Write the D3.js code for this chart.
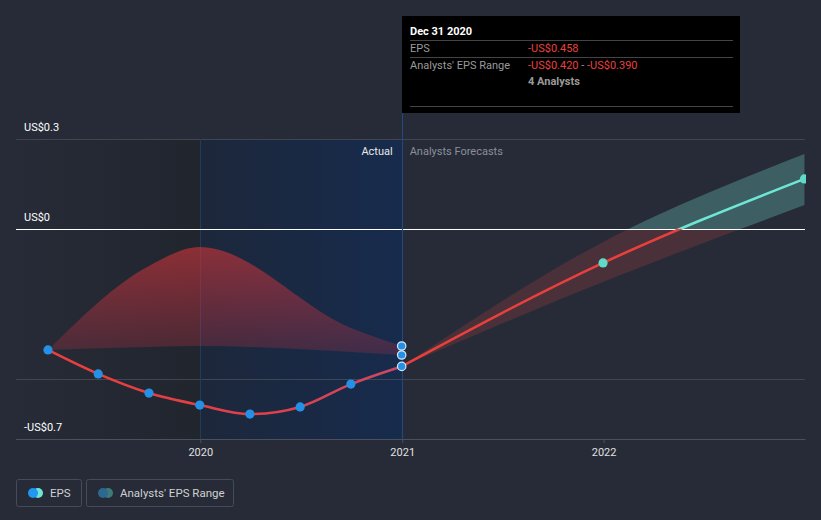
<!DOCTYPE html>
<html><head><meta charset="utf-8">
<script src="https://cdn.jsdelivr.net/npm/d3@7"></script>
<style>
html,body{margin:0;padding:0;background:#262b37;}
svg{display:block;font-family:Roboto,"Open Sans",sans-serif;}
</style></head>
<body><svg id="c" width="821" height="520"></svg>
<script>
// ---- data ----
const actualDates = ["2019-03-31","2019-06-30","2019-09-30","2019-12-31","2020-03-31","2020-06-30","2020-09-30","2020-12-31"];
const actualEPS = [-0.403,-0.483,-0.547,-0.587,-0.617,-0.593,-0.517,-0.458];
const pastRangeDates = ["2019-03-31","2019-09-30","2019-12-31","2020-09-30","2020-12-31"];
const pastRangeHigh = [-0.403,-0.123,-0.06,-0.33,-0.39];
const pastRangeLow = [-0.403,-0.393,-0.39,-0.41,-0.42];
const forecastDates = ["2020-12-31","2021-12-31","2022-12-31"];
const forecastEPS = [-0.458,-0.113,0.167];
const forecastLow = [-0.458,-0.177,0.08];
const forecastHigh = [-0.458,-0.043,0.25];
const yTickValues = [0.3,0,-0.5,-0.7];
const yTickLabels = {"0.3":"US$0.3","0":"US$0","-0.7":"-US$0.7"};
const xTickYears = ["2020","2021","2022"];

const parse = d3.timeParse("%Y-%m-%d");
const svg = d3.select("#c");
const L = 16, R = 805, T = 139, B = 439;
const x = d3.scaleTime().domain([parse("2019-02-01"), parse("2023-01-01")]).range([L, R]);
const y = d3.scaleLinear().domain([-0.7, 0.3]).range([B, T]);
const nowX = x(parse("2020-12-31"));
const crisp = v => Math.round(v) + 0.5;

const defs = svg.append("defs");
const g1 = defs.append("linearGradient").attr("id","bgL").attr("x1","0").attr("x2","1").attr("y1","0").attr("y2","0");
g1.append("stop").attr("offset","0").attr("stop-color","#262b37");
g1.append("stop").attr("offset","1").attr("stop-color","#21252e");
const g2 = defs.append("linearGradient").attr("id","bgB").attr("x1","0").attr("x2","1").attr("y1","0").attr("y2","0");
g2.append("stop").attr("offset","0").attr("stop-color","#1c273a");
g2.append("stop").attr("offset","1").attr("stop-color","#172b4d");
const g3 = defs.append("linearGradient").attr("id","pastFill").attr("gradientUnits","userSpaceOnUse")
  .attr("x1",0).attr("x2",0).attr("y1",y(-0.06)).attr("y2",y(-0.42));
g3.append("stop").attr("offset","0").attr("stop-color","rgb(200,52,56)").attr("stop-opacity",0.64);
g3.append("stop").attr("offset","1").attr("stop-color","rgb(200,52,70)").attr("stop-opacity",0.22);
const g4 = defs.append("linearGradient").attr("id","lineGrad").attr("gradientUnits","userSpaceOnUse")
  .attr("x1",x(parse("2019-03-31"))).attr("x2",nowX).attr("y1",0).attr("y2",0);
g4.append("stop").attr("offset","0").attr("stop-color","#e8403d");
g4.append("stop").attr("offset","0.6").attr("stop-color","#e0404a");
g4.append("stop").attr("offset","1").attr("stop-color","#c84a63");

defs.append("clipPath").attr("id","above").append("rect").attr("x",0).attr("y",0).attr("width",R+1).attr("height",y(0));
defs.append("clipPath").attr("id","below").append("rect").attr("x",0).attr("y",y(0)).attr("width",R+1).attr("height",520);
defs.append("clipPath").attr("id","plot").append("rect").attr("x",L).attr("y",0).attr("width",R-L+1).attr("height",520);

// background regions
const x2020 = x(parse("2020-01-01"));
svg.append("rect").attr("x",L).attr("y",T).attr("width",x2020-L).attr("height",B-T).attr("fill","url(#bgL)");
svg.append("rect").attr("x",x2020).attr("y",T).attr("width",nowX-x2020).attr("height",B-T).attr("fill","url(#bgB)");

// gridlines
yTickValues.forEach(v=>{
  if(v===0) return;
  svg.append("line").attr("x1",L).attr("x2",R).attr("y1",crisp(y(v))).attr("y2",crisp(y(v)))
    .attr("stroke","#3f4551").attr("stroke-width",1);
});
// vertical year line 2020
svg.append("line").attr("x1",crisp(x2020)).attr("x2",crisp(x2020)).attr("y1",T).attr("y2",B).attr("stroke","#233a5e").attr("stroke-width",1);

// x axis
const xAxis = d3.axisBottom(x).tickValues(xTickYears.map(s=>parse(s+"-01-01"))).tickFormat(d3.timeFormat("%Y")).tickSize(4).tickSizeOuter(0);
const ax = svg.append("g").attr("transform",`translate(0,${Math.round(B)})`).call(xAxis);
ax.select(".domain").attr("stroke","#4a505c");
ax.selectAll(".tick line").attr("stroke","#4a505c");
ax.selectAll(".tick text").attr("fill","#e0e0e0").attr("font-size",11).attr("font-family","Roboto").attr("dy","0.9em");

// y labels
yTickValues.forEach(v=>{
  const lab = yTickLabels[String(v)];
  if(!lab) return;
  svg.append("text").attr("x",24).attr("y",y(v)-8).attr("fill","#ffffff").attr("font-size",11).text(lab);
});

// past range area
const area = d3.area().x(d=>x(d.d)).y0(d=>y(d.lo)).y1(d=>y(d.hi)).curve(d3.curveMonotoneX);
const pastData = pastRangeDates.map((d,i)=>({d:parse(d),lo:pastRangeLow[i],hi:pastRangeHigh[i]}));
svg.append("path").datum(pastData).attr("d",area).attr("fill","url(#pastFill)");

// forecast range band
const fData = forecastDates.map((d,i)=>({d:parse(d),lo:forecastLow[i],hi:forecastHigh[i],v:forecastEPS[i]}));
const bandG = svg.append("g").attr("clip-path","url(#plot)");
bandG.append("g").attr("clip-path","url(#below)").append("path").datum(fData).attr("d",area).attr("fill","#4a3039");
bandG.append("g").attr("clip-path","url(#above)").append("path").datum(fData).attr("d",area).attr("fill","#3d5f63");

// zero line
svg.append("line").attr("x1",L).attr("x2",R).attr("y1",crisp(y(0))).attr("y2",crisp(y(0))).attr("stroke","#ffffff").attr("stroke-width",1);

// now vertical line
svg.append("line").attr("x1",crisp(nowX)).attr("x2",crisp(nowX)).attr("y1",113).attr("y2",B).attr("stroke","#1f4a85").attr("stroke-width",1);

// actual / forecast labels
svg.append("text").attr("x",nowX-9).attr("y",155).attr("text-anchor","end").attr("fill","#e8e8e8").attr("font-size",11).text("Actual");
svg.append("text").attr("x",nowX+8).attr("y",155).attr("fill","#8a8f98").attr("font-size",11).text("Analysts Forecasts");

// lines
const line = d3.line().x(d=>x(d.d)).y(d=>y(d.v)).curve(d3.curveMonotoneX);
const aData = actualDates.map((d,i)=>({d:parse(d),v:actualEPS[i]}));
svg.append("path").datum(aData).attr("d",line).attr("fill","none").attr("stroke","url(#lineGrad)").attr("stroke-width",2.6);
const lineG = svg.append("g").attr("clip-path","url(#plot)");
lineG.append("g").attr("clip-path","url(#below)").append("path").datum(fData).attr("d",line).attr("fill","none").attr("stroke","#e8403d").attr("stroke-width",2.6);
lineG.append("g").attr("clip-path","url(#above)").append("path").datum(fData).attr("d",line).attr("fill","none").attr("stroke","#6ee6d3").attr("stroke-width",2.6);

// markers
svg.selectAll("circle.act").data(aData.slice(0,-1)).enter().append("circle")
  .attr("cx",d=>x(d.d)).attr("cy",d=>y(d.v)).attr("r",4.6).attr("fill","#2591e6");
const lastI = pastRangeDates.length-1;
[pastRangeHigh[lastI], pastRangeLow[lastI], actualEPS[actualEPS.length-1]].forEach(v=>{
  svg.append("circle").attr("cx",nowX).attr("cy",y(v)).attr("r",4.2).attr("fill","#2591e6").attr("stroke","#d8e8f8").attr("stroke-width",1.2);
});
const mG = svg.append("g").attr("clip-path","url(#plot)");
mG.selectAll("circle").data(fData.slice(1)).enter().append("circle")
  .attr("cx",d=>x(d.d)).attr("cy",d=>y(d.v)).attr("r",4.6).attr("fill","#5fdcc9");

// tooltip
const tt = svg.append("g");
tt.append("rect").attr("x",Math.round(nowX)).attr("y",16).attr("width",338).attr("height",97).attr("fill","#000");
tt.append("text").attr("x",410).attr("y",35).attr("fill","#fff").attr("font-size",11).attr("font-weight","bold").text("Dec 31 2020");
[40.5,57.5,106.5].forEach(yy=>tt.append("line").attr("x1",410).attr("x2",733).attr("y1",yy).attr("y2",yy).attr("stroke","#444").attr("stroke-width",1));
tt.append("text").attr("x",410).attr("y",52).attr("fill","#9a9a9a").attr("font-size",11).text("EPS");
tt.append("text").attr("x",528).attr("y",52).attr("fill","#e8413f").attr("font-size",11).text("-US$0.458");
tt.append("text").attr("x",410).attr("y",69).attr("fill","#9a9a9a").attr("font-size",11).text("Analysts' EPS Range");
const rt = tt.append("text").attr("x",528).attr("y",69).attr("font-size",11);
rt.append("tspan").attr("fill","#e8413f").text("-US$0.420");
rt.append("tspan").attr("fill","#9a9a9a").text(" - ");
rt.append("tspan").attr("fill","#e8413f").text("-US$0.390");
tt.append("text").attr("x",528).attr("y",85).attr("fill","#9a9a9a").attr("font-size",11).attr("font-weight","bold").text("4 Analysts");

// legend
const lg = svg.append("g");
lg.append("rect").attr("x",16.5).attr("y",479.5).attr("width",65).attr("height",27).attr("rx",2).attr("fill","none").attr("stroke","#454b57");
lg.append("circle").attr("cx",38).attr("cy",493).attr("r",5).attr("fill","#6ee6d3");
lg.append("circle").attr("cx",33).attr("cy",493).attr("r",5).attr("fill","#2196f3");
lg.append("text").attr("x",50).attr("y",497).attr("fill","#d0d0d0").attr("font-size",11.5).text("EPS");
lg.append("rect").attr("x",86.5).attr("y",479.5).attr("width",147).attr("height",27).attr("rx",2).attr("fill","none").attr("stroke","#454b57");
lg.append("circle").attr("cx",108).attr("cy",493).attr("r",5).attr("fill","#3d7a78");
lg.append("circle").attr("cx",103).attr("cy",493).attr("r",5).attr("fill","#2d6891");
lg.append("text").attr("x",120).attr("y",497).attr("fill","#d0d0d0").attr("font-size",11.5).text("Analysts' EPS Range");
</script></body></html>
